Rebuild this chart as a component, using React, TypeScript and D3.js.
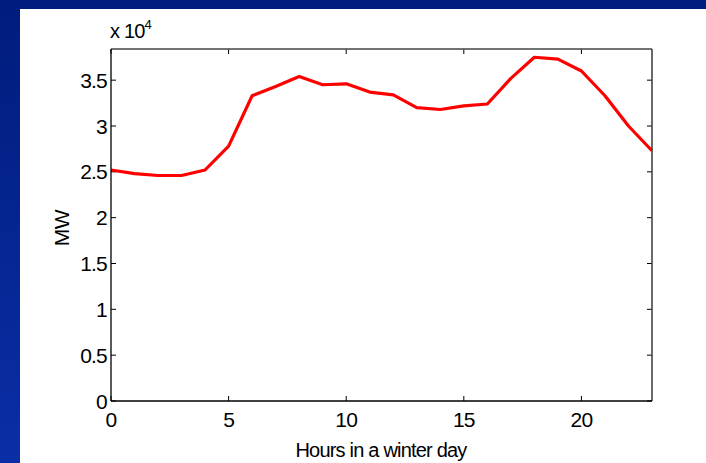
import React from "react";
import * as d3 from "d3";

const hours = [0,1,2,3,4,5,6,7,8,9,10,11,12,13,14,15,16,17,18,19,20,21,22,23];
const loadMW = [25200,24800,24600,24600,25200,27800,33300,34300,35400,34500,34600,33700,33400,32000,31800,32200,32400,35200,37500,37300,36000,33300,30000,27300];
const xTicks = [0,5,10,15,20];
const yTicks = [0,5000,10000,15000,20000,25000,30000,35000];
const yTickLabels = ["0","0.5","1","1.5","2","2.5","3","3.5"];

const W = 706, H = 463;
const m = { left: 111, right: 652, top: 49, bottom: 401 };
const font = "'Liberation Sans', Arial, sans-serif";

export default function App() {
  const x = d3.scaleLinear().domain([0, 23]).range([m.left, m.right]);
  const y = d3.scaleLinear().domain([0, 38400]).range([m.bottom, m.top]);
  const line = d3.line<number>().x((_, i) => x(hours[i])).y((d) => y(d));
  const tl = 5;
  return (
    <svg width={W} height={H} style={{ position: "fixed", left: 0, top: 0 }}>
      <defs>
        <linearGradient id="lb" x1="0" y1="0" x2="0" y2="1">
          <stop offset="0" stopColor="#001c7c" />
          <stop offset="1" stopColor="#0a2ea6" />
        </linearGradient>
      </defs>
      <rect x={0} y={0} width={W} height={H} fill="#ffffff" />
      <rect x={0} y={0} width={20} height={H} fill="url(#lb)" />
      <rect x={0} y={0} width={W} height={9} fill="#001c7c" />
      {xTicks.map((t) => (
        <g key={"x" + t}>
          <line x1={x(t)} x2={x(t)} y1={m.bottom} y2={m.bottom - tl} stroke="#000" strokeWidth={1} />
          <line x1={x(t)} x2={x(t)} y1={m.top} y2={m.top + tl} stroke="#000" strokeWidth={1} />
          <text x={x(t)} y={427} textAnchor="middle" fontFamily={font} fontSize={21} letterSpacing={-0.8} fill="#000">{t}</text>
        </g>
      ))}
      {yTicks.map((t, i) => (
        <g key={"y" + t}>
          <line x1={m.left} x2={m.left + tl} y1={y(t)} y2={y(t)} stroke="#000" strokeWidth={1} />
          <line x1={m.right} x2={m.right - tl} y1={y(t)} y2={y(t)} stroke="#000" strokeWidth={1} />
          <text x={107} y={y(t) + 7.5} textAnchor="end" fontFamily={font} fontSize={21} letterSpacing={-0.8} fill="#000">{yTickLabels[i]}</text>
        </g>
      ))}
      <path d={line(loadMW) || ""} fill="none" stroke="#ff0000" strokeWidth={3.2} strokeLinejoin="round" />
      <line x1={m.left} x2={m.right} y1={m.top} y2={m.top} stroke="#444" strokeWidth={1.3} />
      <line x1={m.right} x2={m.right} y1={m.top} y2={m.bottom} stroke="#444" strokeWidth={1.6} />
      <line x1={m.left} x2={m.right} y1={m.bottom} y2={m.bottom} stroke="#000" strokeWidth={1.3} />
      <line x1={m.left} x2={m.left} y1={m.top} y2={m.bottom} stroke="#000" strokeWidth={1.3} />
      <text x={110} y={38} fontFamily={font} fontSize={20} letterSpacing={-0.8} fill="#000">
        x 10<tspan dy={-9} fontSize={13}>4</tspan>
      </text>
      <text transform={`translate(69,228) rotate(-90)`} textAnchor="middle" fontFamily={font} fontSize={21} letterSpacing={-0.5} fill="#000">MW</text>
      <text x={381} y={457} textAnchor="middle" fontFamily={font} fontSize={20} letterSpacing={-0.8} fill="#000">Hours in a winter day</text>
    </svg>
  );
}
